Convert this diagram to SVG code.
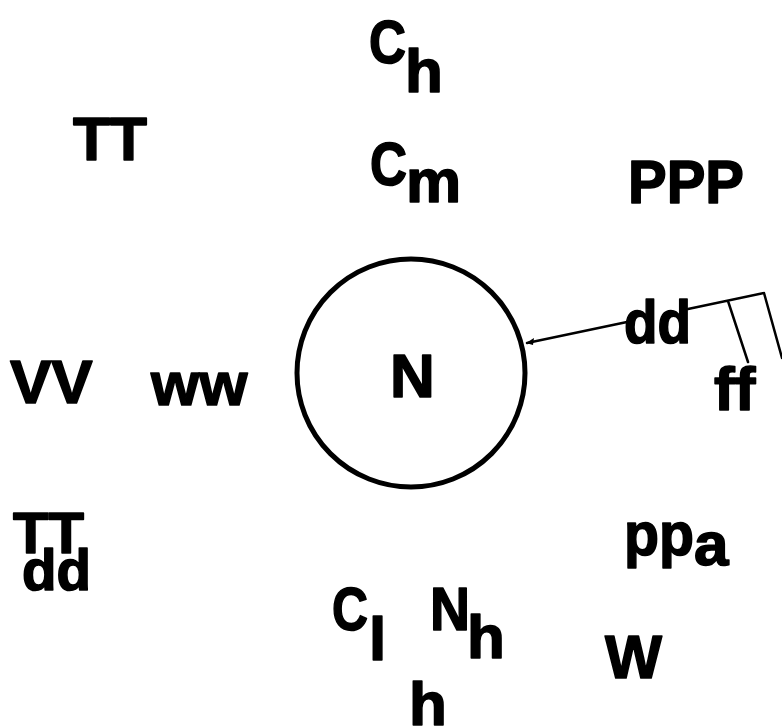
<svg xmlns="http://www.w3.org/2000/svg" width="782" height="727" viewBox="0 0 782 727">
<style>
text{font-family:"Liberation Sans",Arial,sans-serif;font-weight:bold;font-size:62px;fill:#000;stroke:#000;stroke-width:1.6;stroke-linejoin:round}
.sm{font-size:58px}
.ln{stroke:#000;stroke-width:2.5;fill:none;stroke-linecap:round}
</style>
<rect width="782" height="727" fill="#fff"/>
<g id="station">
<circle cx="411" cy="373" r="114" fill="none" stroke="#000" stroke-width="5"/>
<text x="390" y="397">N</text>
</g>
<g id="Ch"><text x="369" y="63" textLength="37" lengthAdjust="spacingAndGlyphs">C</text><text x="405" y="92">h</text></g>
<g id="Cm"><text x="370" y="185" textLength="37" lengthAdjust="spacingAndGlyphs">C</text><text x="406" y="202">m</text></g>
<g id="TT"><text x="73" y="160" textLength="74" lengthAdjust="spacingAndGlyphs">TT</text></g>
<g id="PPP"><text x="628" y="203" textLength="116" lengthAdjust="spacingAndGlyphs">PPP</text></g>
<g id="VV"><text x="10" y="403">VV</text></g>
<g id="ww"><text x="151" y="405">ww</text></g>
<g id="dd"><text x="624" y="343" textLength="67" lengthAdjust="spacingAndGlyphs">dd</text></g>
<g id="ff"><text x="714" y="410">ff</text></g>
<g id="TTdd"><text class="sm" x="13" y="553" textLength="71" lengthAdjust="spacingAndGlyphs">TT</text><text class="sm" x="22" y="590" textLength="69" lengthAdjust="spacingAndGlyphs">dd</text></g>
<g id="ppa"><text x="624" y="555" textLength="70" lengthAdjust="spacingAndGlyphs">pp</text><text x="694" y="565">a</text></g>
<g id="W"><text x="605" y="678" textLength="57" lengthAdjust="spacingAndGlyphs">W</text></g>
<g id="Cl"><text x="332" y="630" textLength="36" lengthAdjust="spacingAndGlyphs">C</text><text x="369" y="660">l</text></g>
<g id="Nh"><text x="430" y="630" textLength="40" lengthAdjust="spacingAndGlyphs">N</text><text x="467" y="658">h</text></g>
<g id="h"><text x="409" y="725">h</text></g>
<g id="connectors">
<path class="ln" d="M527 343 L627 322 M688 309 L764 293 M728 301 L748 362 M764 293 L782 358"/>
<polygon points="526,343 534,338 533,345" fill="#000"/>
</g>
</svg>
